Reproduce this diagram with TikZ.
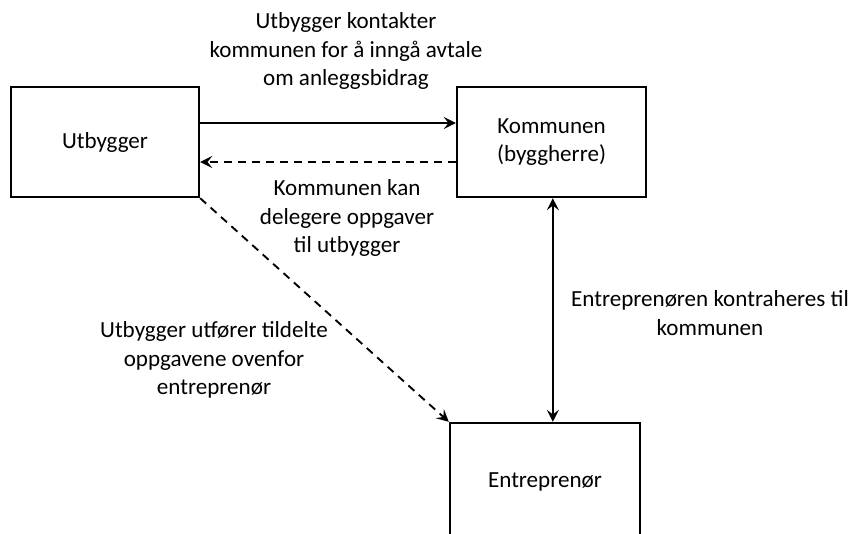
\documentclass[tikz,border=0pt]{standalone}
\usepackage{fontspec}
\setmainfont{Carlito}
\usetikzlibrary{arrows.meta}
\tikzset{
  box/.style={draw, line width=1.8pt, inner sep=0pt, align=center},
  lbl/.style={inner sep=0pt, align=center, font=\fontsize{17.3}{21.3}\selectfont},
  conn/.style={line width=1.4pt, -{Stealth[length=9pt,width=9pt,inset=3.5pt]}},
  dconn/.style={conn, dash pattern=on 6pt off 4.5pt},
}
\begin{document}
\begin{tikzpicture}[x=0.75pt,y=-0.75pt]
\useasboundingbox (0,0) rectangle (859,533);
\clip (0,0) rectangle (859,533);
\node[box, minimum width=188*0.75pt, minimum height=110*0.75pt, lbl] (utb) at (105,142) {Utbygger};
\node[box, minimum width=189*0.75pt, minimum height=110*0.75pt, lbl] (kom) at (551.5,142) {Kommunen\\(byggherre)};
\node[box, minimum width=190*0.75pt, minimum height=130*0.75pt] (ent) at (545,488) {};
\node[lbl] (entl) at (545,482) {Entreprenør};

\coordinate (ya) at (0,123);
\coordinate (yb) at (0,162);
\draw[conn] (utb.east |- ya) -- (kom.west |- ya);
\draw[dconn] (kom.west |- yb) -- (utb.east |- yb);
\draw[dconn] (utb.south east) -- (ent.north west);
\draw[conn, {Stealth[length=9pt,width=9pt,inset=3.5pt]}-{Stealth[length=9pt,width=9pt,inset=3.5pt]}] ([xshift=1pt]kom.south) -- ([xshift=1pt]kom.south |- ent.north);

\node[lbl] (t1) at (346,51) {Utbygger kontakter\\kommunen for å inngå avtale\\om anleggsbidrag};
\node[lbl] (t2) at (347,218) {Kommunen kan\\delegere oppgaver\\til utbygger};
\node[lbl] (t3) at (214,360) {Utbygger utfører tildelte\\oppgavene ovenfor\\entreprenør};
\node[lbl] (t4) at (710,313) {Entreprenøren kontraheres til\\kommunen};
\end{tikzpicture}
\end{document}
